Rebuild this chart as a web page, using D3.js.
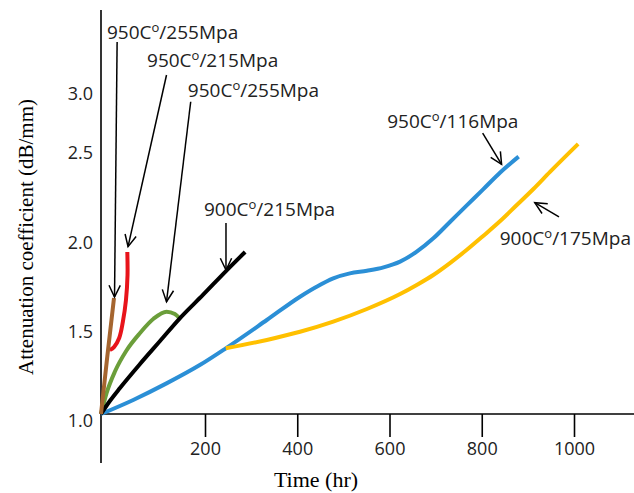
<!DOCTYPE html>
<html>
<head>
<meta charset="utf-8">
<script src="https://cdn.jsdelivr.net/npm/d3@7"></script>
<style>
  body { margin: 0; background: #fff; }
  svg { display: block; }
</style>
</head>
<body>
<div id="chart"></div>
<script>
const WIDTH = 634;
const HEIGHT = 493;

// time (hr) / attenuation coefficient (dB/mm)
const brownT = [0, 12, 25];
const brownV = [1.0, 1.32, 1.652];

const redT = [17, 25, 35, 42, 48, 51, 50.6];
const redV = [1.36, 1.376, 1.427, 1.517, 1.64, 1.78, 1.91];

const greenT = [0, 11, 27, 49, 75, 101, 126, 142, 151];
const greenV = [1.0, 1.12, 1.24, 1.357, 1.455, 1.535, 1.575, 1.562, 1.538];

const blackT = [0, 17, 36.5, 75, 113.5, 152, 196, 245.5, 287];
const blackV = [1.0, 1.073, 1.146, 1.281, 1.41, 1.539, 1.669, 1.803, 1.91];

const blueT = [0, 62, 126, 190, 245, 334, 406, 442, 478, 514, 551, 587, 623, 659, 695, 731, 767, 803, 840, 880];
const blueV = [1.0, 1.079, 1.172, 1.275, 1.369, 1.528, 1.659, 1.715, 1.762, 1.79, 1.805, 1.824, 1.856, 1.912, 1.987, 2.078, 2.169, 2.259, 2.353, 2.441];

const orangeT = [245, 334, 406, 478, 551, 623, 659, 695, 731, 767, 803, 840, 876, 912, 948, 1009];
const orangeV = [1.369, 1.416, 1.462, 1.519, 1.59, 1.674, 1.725, 1.781, 1.848, 1.921, 2.0, 2.083, 2.172, 2.261, 2.356, 2.517];

const xTicks = [200, 400, 600, 800, 1000];
const yTicks = [1.0, 1.5, 2.0, 2.5, 3.0];

// annotation: temp, stress, label anchor [t, v], arrow tail [t, v], arrow tip [t, v]
const noteTemp = ["950", "950", "950", "900", "950", "900"];
const noteStress = ["255", "215", "255", "215", "116", "175"];
const noteAt = [[11.5, 3.407], [88.5, 3.169], [167, 2.915], [198, 2.111], [595, 2.653], [839, 1.949]];
const noteFrom = [[31, 3.381], [126, 3.102], [172.5, 2.875], [245.5, 2.072], [802, 2.61], [967.5, 2.106]];
const noteTo = [[26, 1.657], [52, 1.94], [126, 1.631], [245.5, 1.809], [843, 2.398], [915, 2.185]];

const series = [
  { t: blueT, v: blueV, color: "#2b8fd6", curve: d3.curveMonotoneX },
  { t: orangeT, v: orangeV, color: "#ffc000", curve: d3.curveMonotoneX },
  { t: greenT, v: greenV, color: "#6b9e3a", curve: d3.curveMonotoneX },
  { t: blackT, v: blackV, color: "#000000", curve: d3.curveMonotoneX },
  { t: redT, v: redV, color: "#e8141b", curve: d3.curveCatmullRom.alpha(0.5) },
  { t: brownT, v: brownV, color: "#a5652f", curve: d3.curveMonotoneX }
];

const svg = d3.select("#chart")
  .append("svg")
  .attr("width", WIDTH)
  .attr("height", HEIGHT);

// the original is hand drawn, tick spacing is not quite even
const x = d3.scaleLinear().domain([0, 200, 1000]).range([101, 205, 574]);
const y = d3.scaleLinear().domain([1.0, 2.0, 2.5, 3.0]).range([414, 236, 146, 87]);

// axes
svg.append("line")
  .attr("x1", x(0)).attr("x2", WIDTH)
  .attr("y1", y(1)).attr("y2", y(1))
  .style("stroke", "#000").style("stroke-width", 1.6);

svg.append("line")
  .attr("x1", x(0)).attr("x2", x(0))
  .attr("y1", 10).attr("y2", 463)
  .style("stroke", "#000").style("stroke-width", 1.6);

const xAxis = svg.append("g")
  .attr("transform", `translate(0, ${y(1)})`)
  .call(d3.axisBottom(x).tickValues(xTicks).tickFormat(d3.format("d"))
    .tickSize(23).tickSizeOuter(0).tickPadding(5));
xAxis.select(".domain").remove();
xAxis.selectAll("line").style("stroke", "#000").style("stroke-width", 1.6);
xAxis.selectAll("text")
  .style("font-family", "'Open Sans', sans-serif")
  .style("font-size", "18px")
  .style("fill", "#222");

svg.append("g")
  .selectAll("text")
  .data(yTicks)
  .enter()
  .append("text")
  .attr("x", 93)
  .attr("y", d => y(d) + 6)
  .attr("dominant-baseline", "central")
  .attr("text-anchor", "end")
  .style("font-family", "'Open Sans', sans-serif")
  .style("font-size", "18px")
  .style("fill", "#222")
  .text(d => d.toFixed(1));

svg.append("text")
  .attr("x", 316)
  .attr("y", 487)
  .attr("text-anchor", "middle")
  .style("font-family", "'Liberation Serif', 'Times New Roman', serif")
  .style("font-size", "22px")
  .text("Time (hr)");

svg.append("text")
  .attr("transform", "translate(33, 237) rotate(-90)")
  .attr("text-anchor", "middle")
  .style("font-family", "'Liberation Serif', 'Times New Roman', serif")
  .style("font-size", "21px")
  .text("Attenuation coefficient (dB/mm)");

// curves
svg.append("g")
  .selectAll("path")
  .data(series)
  .enter()
  .append("path")
  .attr("d", s => d3.line()
    .x(d => x(d[0]))
    .y(d => y(d[1]))
    .curve(s.curve)(s.t.map((t, i) => [t, s.v[i]])))
  .style("fill", "none")
  .style("stroke", s => s.color)
  .style("stroke-width", 4)
  .style("stroke-linecap", "butt");

// annotations with open arrow heads
const notes = noteTemp.map((temp, i) => ({
  temp: temp, stress: noteStress[i], at: noteAt[i], from: noteFrom[i], to: noteTo[i]
}));

const note = svg.append("g")
  .selectAll("g")
  .data(notes)
  .enter()
  .append("g");

note.append("line")
  .attr("x1", d => x(d.from[0])).attr("y1", d => y(d.from[1]))
  .attr("x2", d => x(d.to[0])).attr("y2", d => y(d.to[1]))
  .style("stroke", "#000").style("stroke-width", 1.5);

note.append("path")
  .attr("d", d => {
    let x1 = x(d.from[0]), y1 = y(d.from[1]);
    let x2 = x(d.to[0]), y2 = y(d.to[1]);
    let a = Math.atan2(y2 - y1, x2 - x1);
    let len = 13, s = 0.45;
    let p1 = [x2 - len * Math.cos(a - s), y2 - len * Math.sin(a - s)];
    let p2 = [x2 - len * Math.cos(a + s), y2 - len * Math.sin(a + s)];
    return `M${p1[0]},${p1[1]}L${x2},${y2}L${p2[0]},${p2[1]}`;
  })
  .style("fill", "none")
  .style("stroke", "#000")
  .style("stroke-width", 1.5);

const label = note.append("text")
  .attr("x", d => x(d.at[0]))
  .attr("y", d => y(d.at[1]))
  .style("font-family", "'Open Sans', sans-serif")
  .style("font-size", "19px")
  .style("fill", "#222");

label.append("tspan").text(d => d.temp + "C");
label.append("tspan").attr("dy", -7).style("font-size", "13px").text("o");
label.append("tspan").attr("dy", 7).text(d => "/" + d.stress + "Mpa");
</script>
</body>
</html>
